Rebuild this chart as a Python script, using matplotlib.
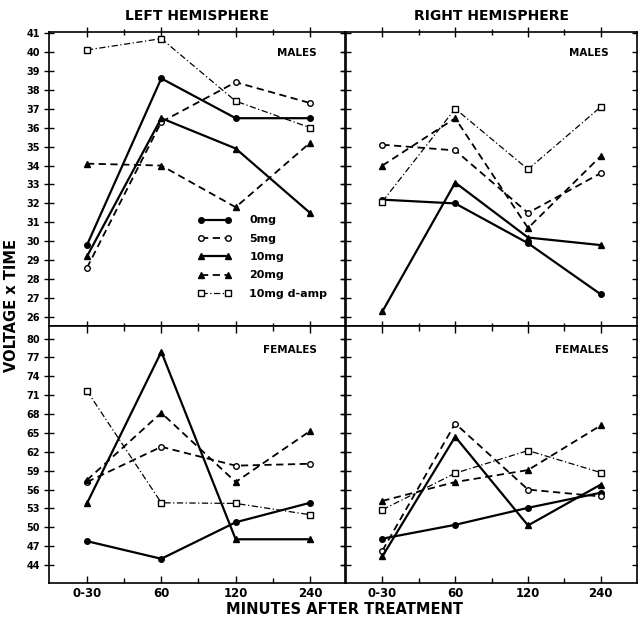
import matplotlib
matplotlib.use('Agg')
import matplotlib.pyplot as plt
from matplotlib.ticker import FixedLocator

plt.rcParams['font.family'] = ['DejaVu Sans']
plt.rcParams['font.weight'] = 'bold'

categories = ['0-30', '60', '120', '240']
doses = ['0mg', '5mg', '10mg', '20mg', '10mg d-amp']

# Left hemisphere, males
lm_0mg = [29.8, 38.6, 36.5, 36.5]
lm_5mg = [28.6, 36.3, 38.4, 37.3]
lm_10mg = [29.2, 36.5, 34.9, 31.5]
lm_20mg = [34.1, 34.0, 31.8, 35.2]
lm_damp = [40.1, 40.7, 37.4, 36.0]

# Right hemisphere, males
rm_0mg = [32.2, 32.0, 29.9, 27.2]
rm_5mg = [35.1, 34.8, 31.5, 33.6]
rm_10mg = [26.3, 33.1, 30.2, 29.8]
rm_20mg = [34.0, 36.5, 30.7, 34.5]
rm_damp = [32.1, 37.0, 33.8, 37.1]

# Left hemisphere, females
lf_0mg = [47.8, 45.0, 50.8, 53.9]
lf_5mg = [57.2, 62.8, 59.8, 60.1]
lf_10mg = [53.8, 77.9, 48.1, 48.1]
lf_20mg = [57.5, 68.2, 57.2, 65.3]
lf_damp = [71.7, 53.9, 53.8, 52.0]

# Right hemisphere, females
rf_0mg = [48.2, 50.4, 53.1, 55.5]
rf_5mg = [46.3, 66.5, 56.0, 54.9]
rf_10mg = [45.4, 64.4, 50.3, 56.8]
rf_20mg = [54.2, 57.2, 59.1, 66.2]
rf_damp = [52.8, 58.6, 62.2, 58.7]

male_yticks = list(range(26, 42))
female_yticks = list(range(44, 81, 3))

styles = [
    dict(ls='-', lw=1.6, marker='o', mfc='black', mec='black', ms=4),
    dict(ls=(0, (4, 2.5)), lw=1.3, marker='o', mfc='white', mec='black', ms=4, mew=1.0),
    dict(ls='-', lw=1.6, marker='^', mfc='black', mec='black', ms=4.5),
    dict(ls=(0, (4, 2.5)), lw=1.3, marker='^', mfc='black', mec='black', ms=4.5),
    dict(ls=(0, (5, 2, 1, 2)), lw=0.9, marker='s', mfc='white', mec='black', ms=4, mew=1.0),
]

W, H = 638, 620
fig = plt.figure(figsize=(W / 100, H / 100), dpi=100)


def box(x0, y0, x1, y1):
    return [x0 / W, 1 - y1 / H, (x1 - x0) / W, (y1 - y0) / H]


ax_lm = fig.add_axes(box(49, 32, 345, 326))
ax_rm = fig.add_axes(box(346, 32, 636.5, 326))
ax_lf = fig.add_axes(box(49, 326, 345, 583))
ax_rf = fig.add_axes(box(346, 326, 636.5, 583))

panels = [
    (ax_lm, [lm_0mg, lm_5mg, lm_10mg, lm_20mg, lm_damp], (25.53, 41.05), male_yticks, 'MALES', True, False, (-0.51, 3.47)),
    (ax_rm, [rm_0mg, rm_5mg, rm_10mg, rm_20mg, rm_damp], (25.53, 41.05), male_yticks, 'MALES', False, False, (-0.5, 3.49)),
    (ax_lf, [lf_0mg, lf_5mg, lf_10mg, lf_20mg, lf_damp], (41.15, 82.0), female_yticks, 'FEMALES', True, True, (-0.51, 3.47)),
    (ax_rf, [rf_0mg, rf_5mg, rf_10mg, rf_20mg, rf_damp], (41.15, 82.0), female_yticks, 'FEMALES', False, True, (-0.5, 3.49)),
]

x = list(range(len(categories)))
for ax, series, ylim, yticks, tag, show_y, show_x, xlim in panels:
    for vals, st, lab in zip(series, styles, doses):
        ax.plot(x, vals, color='black', label=lab, **st)
    ax.set_xlim(*xlim)
    ax.set_ylim(*ylim)
    ax.set_yticks(yticks)
    ax.set_xticks(x)
    ax.xaxis.set_minor_locator(FixedLocator([0.5, 1.5, 2.5]))
    ax.xaxis.set_ticks_position('both')
    ax.yaxis.set_ticks_position('both')
    xdir = 'in' if show_x else 'inout'
    ax.tick_params(axis='x', which='major', direction=xdir, length=7 if xdir == 'inout' else 5, width=1.0)
    ax.tick_params(axis='x', which='minor', direction=xdir, length=5 if xdir == 'inout' else 3.5, width=1.0)
    ax.tick_params(axis='y', which='major', direction='inout', length=7, width=1.0, pad=3)
    if show_y:
        ax.set_yticklabels([str(v) for v in yticks], fontsize=7, fontweight='bold')
    else:
        ax.set_yticklabels([])
    if show_x:
        ax.set_xticklabels(categories, fontsize=8.5, fontweight='bold')
        ax.tick_params(axis='x', which='major', pad=3)
    else:
        ax.set_xticklabels([])
    for sp in ax.spines.values():
        sp.set_linewidth(1.2)
    ax.text(0.905, 0.93 if tag == 'MALES' else 0.905, tag, transform=ax.transAxes,
            ha='right', va='center', fontsize=7.5, fontweight='bold')

ax_lm.set_title('LEFT HEMISPHERE', fontsize=10, fontweight='bold', pad=9)
ax_rm.set_title('RIGHT HEMISPHERE', fontsize=10, fontweight='bold', pad=9)

leg = ax_lm.legend(loc='upper left', bbox_to_anchor=(0.485, 0.395), frameon=False,
                   numpoints=2, handlelength=3.0, handletextpad=1.6, labelspacing=0.75,
                   borderpad=0, prop=dict(size=8, weight='bold'))

fig.text(12 / W, 1 - 305 / H, 'VOLTAGE x TIME', rotation=90, ha='center', va='center',
         fontsize=10.5, fontweight='bold')
fig.text(345 / W, 1 - 610 / H, 'MINUTES AFTER TREATMENT', ha='center', va='center',
         fontsize=10.5, fontweight='bold')

fig.savefig('out.png', dpi=100)
